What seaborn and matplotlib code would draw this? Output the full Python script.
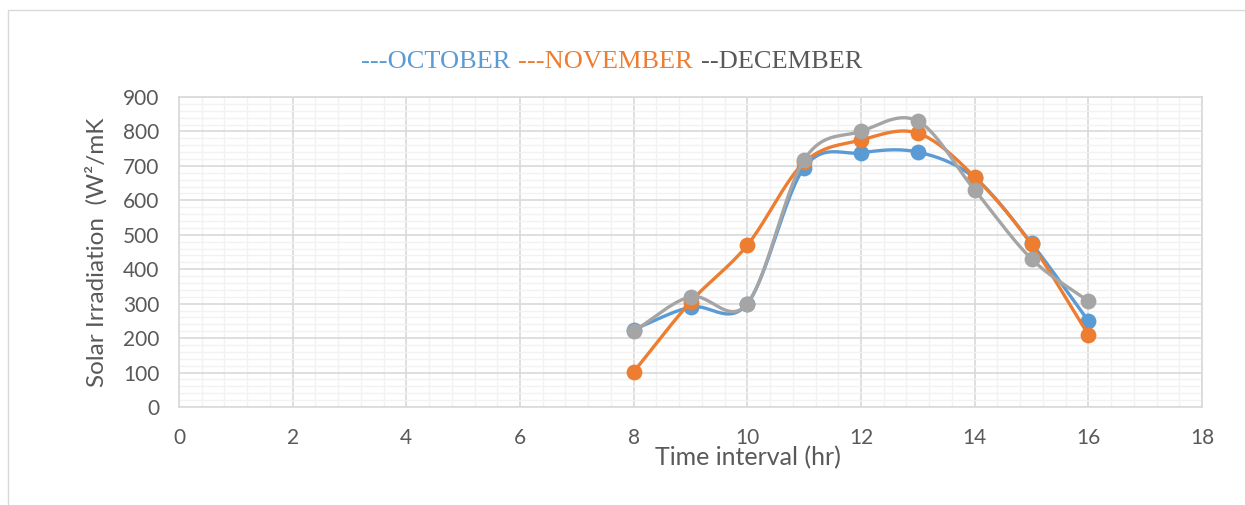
import numpy as np
import pandas as pd
import matplotlib
matplotlib.use("Agg")
import matplotlib.pyplot as plt
from matplotlib.ticker import MultipleLocator
from matplotlib.patches import Rectangle
import seaborn as sns

hours = [8, 9, 10, 11, 12, 13, 14, 15, 16]
october = [225, 290, 300, 695, 738, 740, 665, 475, 250]
november = [102, 305, 470, 710, 775, 795, 668, 472, 210]
december = [220, 320, 300, 718, 800, 830, 630, 430, 307]
series_names = ["OCTOBER", "NOVEMBER", "DECEMBER"]
line_colors = ["#5B9BD5", "#ED7D31", "#A5A5A5"]
legend_colors = ["#5B9BD5", "#ED7D31", "#595959"]
legend_prefix = ["---", "---", "--"]


def catmull_rom(x, y, n=30):
    x = np.asarray(x, float)
    y = np.asarray(y, float)
    px = np.concatenate([[2 * x[0] - x[1]], x, [2 * x[-1] - x[-2]]])
    py = np.concatenate([[2 * y[0] - y[1]], y, [2 * y[-1] - y[-2]]])
    xs, ys = [], []
    for i in range(1, len(px) - 2):
        t = np.linspace(0, 1, n, endpoint=(i == len(px) - 3))
        for arr, out in ((px, xs), (py, ys)):
            p0, p1, p2, p3 = arr[i - 1], arr[i], arr[i + 1], arr[i + 2]
            out.append(0.5 * ((2 * p1) + (-p0 + p2) * t
                              + (2 * p0 - 5 * p1 + 4 * p2 - p3) * t ** 2
                              + (-p0 + 3 * p1 - 3 * p2 + p3) * t ** 3))
    return np.concatenate(xs), np.concatenate(ys)


sns.set_theme(style="white")
plt.rcParams["font.family"] = ["Lato", "DejaVu Sans"]

fig = plt.figure(figsize=(12.45, 5.05), dpi=100)
ax = fig.add_axes([179 / 1245, 1 - 407 / 505, (1202 - 179) / 1245, (407 - 97) / 505])

# outer chart frame
fig.patches.append(Rectangle((8 / 1245, -0.1), 1.2, 1 - 10 / 505 + 0.1,
                             transform=fig.transFigure, fill=False,
                             edgecolor="#D9D9D9", linewidth=1.0))

for k, (name, vals) in enumerate(zip(series_names, [october, november, december])):
    sx, sy = catmull_rom(hours, vals)
    smooth = pd.DataFrame({"x": sx, "y": sy})
    pts = pd.DataFrame({"x": hours, "y": vals})
    sns.lineplot(data=smooth, x="x", y="y", ax=ax, color=line_colors[k],
                 linewidth=2.4, sort=False, estimator=None, zorder=3 + 2 * k)
    sns.scatterplot(data=pts, x="x", y="y", ax=ax, color=line_colors[k],
                    s=130, edgecolor=line_colors[k], linewidth=0, zorder=4 + 2 * k)

ax.set_xlim(0, 18)
ax.set_ylim(0, 900)
ax.xaxis.set_major_locator(MultipleLocator(2))
ax.xaxis.set_minor_locator(MultipleLocator(0.4))
ax.yaxis.set_major_locator(MultipleLocator(100))
ax.yaxis.set_minor_locator(MultipleLocator(20))
ax.grid(which="major", color="#D9D9D9", linewidth=1.2, zorder=1)
ax.grid(which="minor", color="#F2F2F2", linewidth=1.0, zorder=0)
ax.set_axisbelow(True)
for sp in ax.spines.values():
    sp.set_color("#D9D9D9")
    sp.set_linewidth(1.2)
ax.tick_params(axis="both", which="both", length=0, labelsize=15, colors="#595959")
ax.tick_params(axis="x", pad=15)
ax.tick_params(axis="y", pad=14)
ax.set_xlabel("")
ax.set_ylabel("")

fig.text(96 / 1245, 1 - 252 / 505, "Solar Irradiation  (W²/mK", ha="center", va="center",
         rotation=90, fontsize=17.5, color="#595959")
fig.text(748 / 1245, 1 - 458 / 505, "Time interval (hr)", ha="center", va="center",
         fontsize=18, color="#595959")

# title-style legend text
x0 = 361 / 1245
y0 = 1 - 62 / 505
renderer = fig.canvas.get_renderer()
xpos = x0
for pre, name, col in zip(legend_prefix, series_names, legend_colors):
    t = fig.text(xpos, y0, pre + name, ha="left", va="center", fontsize=19,
                 color=col, family=["Liberation Serif", "DejaVu Serif"])
    bb = t.get_window_extent(renderer=renderer)
    xpos += bb.width / fig.bbox.width + 8 / 1245

fig.savefig("out.png", dpi=100)
